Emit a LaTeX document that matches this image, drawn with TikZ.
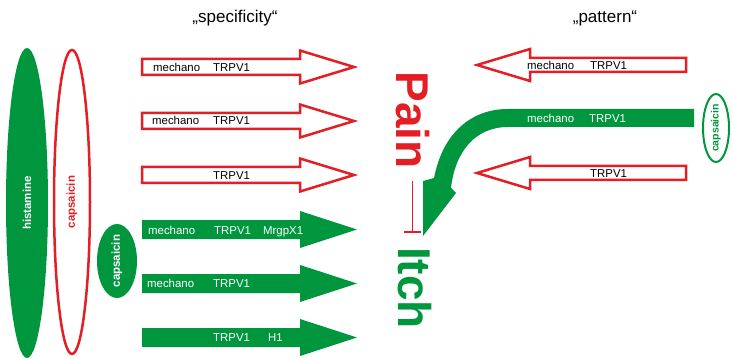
\documentclass[tikz,border=0pt]{standalone}
\usepackage{fontspec}
\setmainfont{Liberation Sans}
\usetikzlibrary{arrows.meta,shapes.geometric}
\definecolor{pred}{RGB}{227,30,36}
\definecolor{pgreen}{RGB}{0,150,62}
\tikzset{
  lbl/.style={font=\fontsize{11.4}{13}\selectfont, inner sep=0, anchor=base west},
  wlbl/.style={lbl, text=white},
  title/.style={font=\fontsize{17}{20}\selectfont, inner sep=0, anchor=base},
  big/.style={font=\fontsize{46}{50}\selectfont\bfseries, inner sep=0, rotate=-90},
  redarrow/.style={draw=pred, line width=2.5pt, fill=white, line join=miter},
  greenarrow/.style={fill=pgreen},
  oval/.style={ellipse, inner sep=0, rotate=90, font=\fontsize{11.5}{13}\selectfont\bfseries},
}
% right-pointing block arrow: #1 y center, #2 style, #3 shaft half, #4 head half, #5 tip x
\newcommand\blockright[5]{%
  \path[#2] (142,{#1-#3}) -- (300,{#1-#3}) -- (300,{#1-#4}) -- (#5,#1)
    -- (300,{#1+#4}) -- (300,{#1+#3}) -- (142,{#1+#3}) -- cycle;}
\newcommand\blockleft[1]{%
  \path[redarrow] (686,{#1-7}) -- (530,{#1-7}) -- (530,{#1-16}) -- (477,#1)
    -- (530,{#1+16}) -- (530,{#1+7}) -- (686,{#1+7}) -- cycle;}
\begin{document}
\begin{tikzpicture}[x=1pt,y=-1pt]
\useasboundingbox (0,0) rectangle (733,358);

% titles
\node[title] (tspec) at (235,23) {„specificity“};
\node[title] (tpat) at (605,23) {„pattern“};

% left ovals
\node[oval, fill=pgreen, text=white, minimum width=310, minimum height=42] (hist) at (27,203) {histamine};
\node[oval, draw=pred, line width=2.5pt, text=pred, minimum width=304, minimum height=36] (caps1) at (72,202) {capsaicin};
\node[oval, fill=pgreen, text=white, minimum width=72, minimum height=40] (caps2) at (117,261) {capsaicin};

% specificity arrows
\blockright{67}{redarrow}{8}{16.5}{354}
\blockright{121}{redarrow}{8}{16.5}{354}
\blockright{175}{redarrow}{8}{16.5}{354}
\blockright{229.5}{greenarrow}{9.5}{18.5}{357}
\blockright{283.5}{greenarrow}{9.5}{18.5}{357}
\blockright{337.5}{greenarrow}{9.5}{18.5}{357}

\node[lbl] (a1m) at (153,71.5) {mechano};
\node[lbl] (a1t) at (213,71.5) {TRPV1};
\node[lbl] (a2m) at (152,125) {mechano};
\node[lbl] (a2t) at (213,125) {TRPV1};
\node[lbl] (a3t) at (213,180) {TRPV1};
\node[wlbl] (a4m) at (148,234) {mechano};
\node[wlbl] (a4t) at (214,234) {TRPV1};
\node[wlbl] (a4x) at (263,234) {MrgpX1};
\node[wlbl] (a5m) at (147,287.5) {mechano};
\node[wlbl] (a5t) at (213,287.5) {TRPV1};
\node[wlbl] (a6t) at (213,341.5) {TRPV1};
\node[wlbl] (a6h) at (268,341.5) {H1};

% pattern arrows
\blockleft{65}
\blockleft{173}
\node[lbl] (b1m) at (527,69.5) {mechano};
\node[lbl] (b1t) at (590,69.5) {TRPV1};
\node[lbl] (b2t) at (590,177.5) {TRPV1};

% curved green arrow
\fill[pgreen] (694,109) -- (508,109) .. controls (472,109) and (443,132) .. (434,178)
  -- (423,181) -- (423,236) -- (456,193) -- (451,188)
  .. controls (455,152) and (475,127) .. (508,127) -- (694,127) -- cycle;
\node[wlbl] (cm) at (527,122.5) {mechano};
\node[wlbl] (ct) at (589,122.5) {TRPV1};

% right capsaicin
\node[oval, draw=pgreen, line width=2pt, text=pgreen, minimum width=68, minimum height=26,
  font=\fontsize{10.5}{12}\selectfont\bfseries] (caps3) at (716,128) {capsaicin};

% Pain / Itch
\node[big, text=pred] (pain) at (412.5,120) {Pain};
\node[big, text=pgreen] (itch) at (414.5,288) {Itch};
\draw[pred, line width=1.5pt, -{Bar[width=17pt,line width=1.5pt]}, shorten <=12pt, shorten >=14pt]
  (pain.east) -- (pain.east |- itch.west);
\end{tikzpicture}
\end{document}
